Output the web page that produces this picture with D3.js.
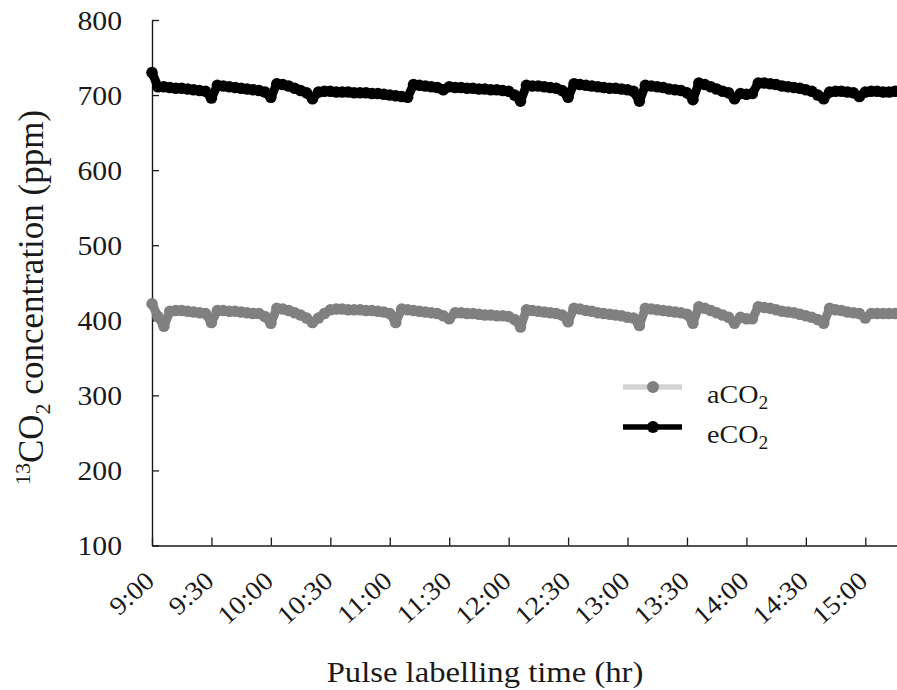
<!DOCTYPE html>
<html>
<head>
<meta charset="utf-8">
<script src="https://cdn.jsdelivr.net/npm/d3@7"></script>
<style>
  html, body { margin: 0; padding: 0; background: #fff; }
  svg { display: block; }
  svg text { font-family: "Times New Roman", "Liberation Serif", Tinos, Times, serif; fill: #1a1a1a; }
</style>
</head>
<body>
<svg id="chart" width="897" height="690"></svg>
<script>
// minutes after 9:00
const times = [0,3,6,9,12,15,18,21,24,27,30,33,36,39,42,45,48,51,54,57,60,63,66,69,72,75,78,81,84,87,90,93,96,99,102,105,108,111,114,117,120,123,126,129,132,135,138,141,144,147,150,153,156,159,162,165,168,171,174,177,180,183,186,189,192,195,198,201,204,207,210,213,216,219,222,225,228,231,234,237,240,243,246,249,252,255,258,261,264,267,270,273,276,279,282,285,288,291,294,297,300,303,306,309,312,315,318,321,324,327,330,333,336,339,342,345,348,351,354,357,360,363,366,369,372,375];

const eCO2 = [730,711,711,710,709,709,708,707,706,705,696,713,712,711,710,709,708,707,706,704,697,715,714,712,709,706,703,695,704,705,705,704,704,704,703,703,703,702,702,701,700,699,698,697,714,713,712,711,710,707,711,710,710,709,709,708,708,707,707,706,705,700,692,713,712,712,711,710,709,706,697,715,714,713,712,711,710,709,709,708,707,705,692,713,712,711,710,708,707,706,703,694,716,714,711,708,705,703,695,702,701,702,716,716,715,714,712,711,710,709,707,705,700,695,704,705,705,704,703,698,704,705,705,704,704,705];

const aCO2 = [422,405,392,412,413,413,412,411,410,409,397,413,413,412,412,411,410,409,409,405,396,416,415,413,410,407,403,397,403,409,414,415,415,414,414,414,413,413,412,411,409,397,415,414,413,412,411,410,409,406,402,410,410,409,409,408,407,407,406,406,405,401,391,414,413,412,411,410,409,407,398,416,415,413,412,410,409,408,407,406,404,403,393,416,415,414,413,412,411,410,408,396,418,416,413,410,407,404,396,404,402,402,418,417,416,414,412,411,410,408,406,404,401,396,416,414,413,411,410,409,403,409,409,409,409,409];

const xTickMinutes = [0,30,60,90,120,150,180,210,240,270,300,330,360];
const xTickLabels = ["9:00","9:30","10:00","10:30","11:00","11:30","12:00","12:30","13:00","13:30","14:00","14:30","15:00"];
const yTicks = [100,200,300,400,500,600,700,800];

const seriesNames = ["aCO2","eCO2"];
const markerColors = ["#808080","#000000"];
const legendLineColors = ["#d3d3d3","#000000"];

const svg = d3.select("#chart");
const x = d3.scaleLinear().domain([0, 376]).range([152, 897]);
const y = d3.scaleLinear().domain([100, 800]).range([545.5, 20]);

// axes
const yAxis = d3.axisLeft(y).tickValues(yTicks).tickSize(-7).tickFormat("").tickSizeOuter(0);
const gy = svg.append("g").attr("transform", "translate(152,0)").call(yAxis);
gy.select(".domain").attr("stroke", "#1a1a1a").attr("stroke-width", 1.4);
gy.selectAll(".tick line").attr("stroke", "#1a1a1a").attr("stroke-width", 1.3);

const xAxis = d3.axisBottom(x).tickValues(xTickMinutes).tickSize(-8).tickFormat("").tickSizeOuter(0);
const gx = svg.append("g").attr("transform", "translate(0,545.5)").call(xAxis);
gx.select(".domain").attr("stroke", "#1a1a1a").attr("stroke-width", 1.4);
gx.selectAll(".tick line").attr("stroke", "#1a1a1a").attr("stroke-width", 1.3);

// y tick labels
svg.append("g").selectAll("text").data(yTicks).join("text")
  .attr("transform", d => `translate(122,${y(d)}) scale(1.1,1)`)
  .attr("text-anchor", "end")
  .attr("dy", "0.36em")
  .attr("font-size", 27)
  .text(d => d);

// x tick labels
svg.append("g").selectAll("text").data(xTickMinutes).join("text")
  .attr("transform", (d) => `translate(${x(d) + 4},583) rotate(-42) scale(1.08,1)`)
  .attr("text-anchor", "end")
  .attr("font-size", 26)
  .text((d, i) => xTickLabels[i]);

// axis titles
svg.append("text")
  .attr("transform", "translate(485,682) scale(1.09,1)")
  .attr("text-anchor", "middle")
  .attr("font-size", 30)
  .text("Pulse labelling time (hr)");

const yt = svg.append("text")
  .attr("transform", "translate(43,485) rotate(-90)")
  .attr("text-anchor", "start")
  .attr("font-size", 35);
yt.append("tspan").attr("font-size", 22).attr("dy", -13).text("13");
yt.append("tspan").attr("dy", 13).text("CO");
yt.append("tspan").attr("font-size", 22).attr("dy", 7).text("2");
yt.append("tspan").attr("dy", -7).text(" concentration (ppm)");

// series
const data = [aCO2, eCO2];
const line = d3.line().x((d, i) => x(times[i])).y(d => y(d));
data.forEach((vals, k) => {
  const g = svg.append("g");
  g.append("path").datum(vals)
    .attr("d", line)
    .attr("fill", "none")
    .attr("stroke", markerColors[k])
    .attr("stroke-width", 9)
    .attr("stroke-linejoin", "round")
    .attr("stroke-linecap", "round");
  g.selectAll("circle").data(vals).join("circle")
    .attr("cx", (d, i) => x(times[i]))
    .attr("cy", d => y(d))
    .attr("r", 5.8)
    .attr("fill", markerColors[k]);
});

// legend
const legendY = [387, 427];
const lg = svg.append("g");
seriesNames.forEach((name, k) => {
  lg.append("line")
    .attr("x1", 623).attr("x2", 682)
    .attr("y1", legendY[k]).attr("y2", legendY[k])
    .attr("stroke", legendLineColors[k]).attr("stroke-width", 5.5);
  lg.append("circle").attr("cx", 653).attr("cy", legendY[k]).attr("r", 6).attr("fill", markerColors[k]);
  const t = lg.append("text")
    .attr("transform", `translate(707,${legendY[k] + 16}) scale(1.08,1)`)
    .attr("font-size", 26);
  t.append("tspan").text(name.slice(0, 3));
  t.append("tspan").attr("font-size", 18).attr("dy", 6).text(name.slice(3));
});
</script>
</body>
</html>
